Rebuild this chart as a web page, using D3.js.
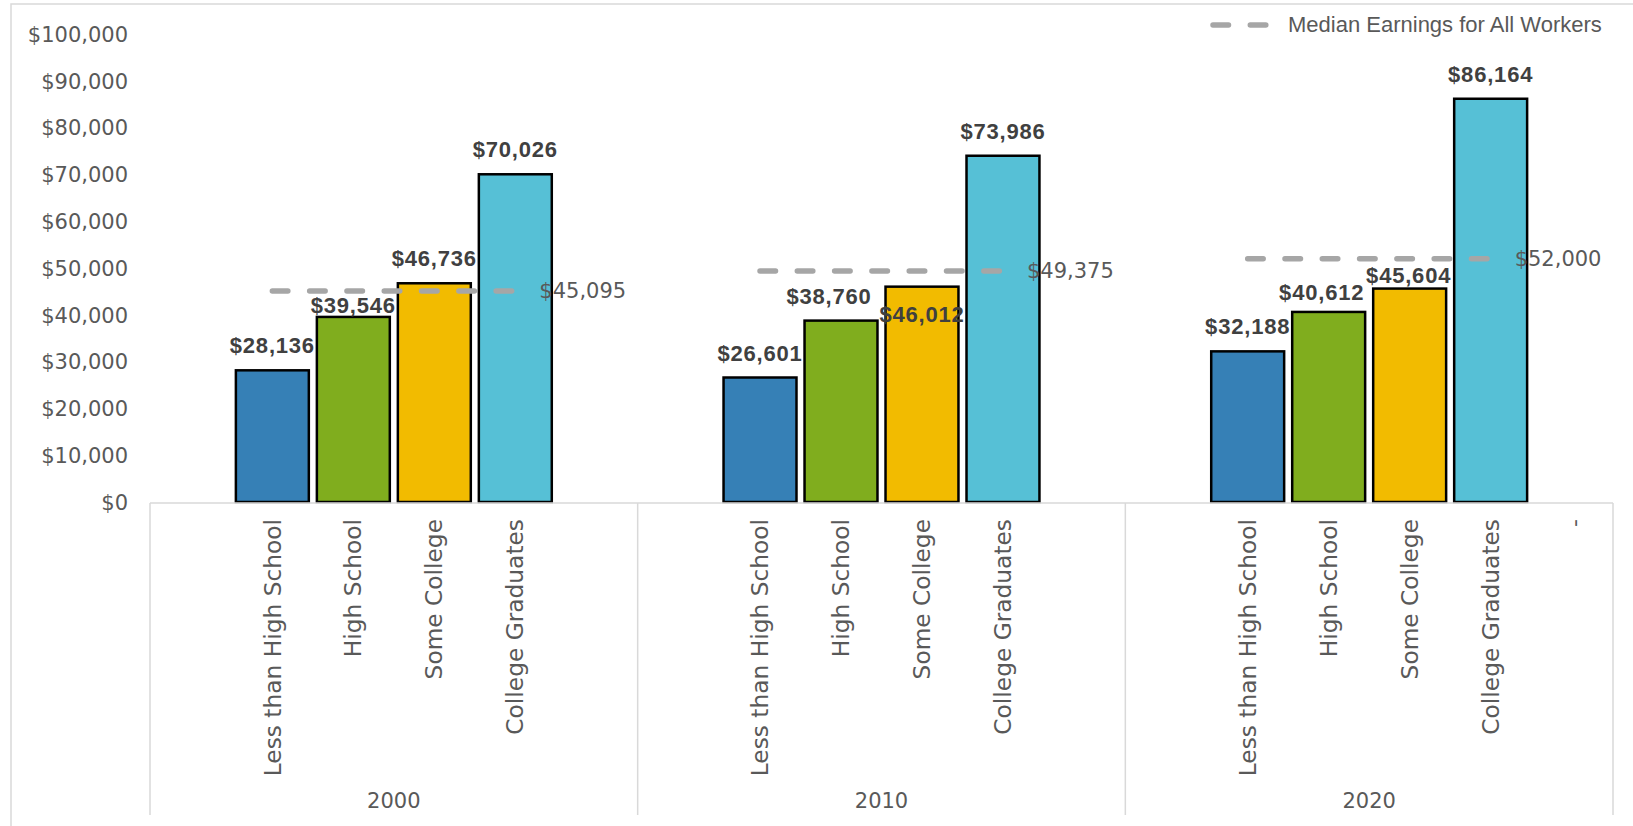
<!DOCTYPE html>
<html>
<head>
<meta charset="utf-8">
<script src="https://cdn.jsdelivr.net/npm/d3@7"></script>
<style>
  html, body { margin: 0; padding: 0; background: #ffffff; }
  svg { display: block; }
</style>
</head>
<body>
<svg id="chart" width="1633" height="826"></svg>
<script>
// Median annual earnings by educational attainment
const years = ["2000", "2010", "2020"];
const levels = ["Less than High School", "High School", "Some College", "College Graduates"];
const earnings2000 = [28136, 39546, 46736, 70026];
const earnings2010 = [26601, 38760, 46012, 73986];
const earnings2020 = [32188, 40612, 45604, 86164];
const medianAllWorkers = [45095, 49375, 52000];
const yTicks = [0, 10000, 20000, 30000, 40000, 50000, 60000, 70000, 80000, 90000, 100000];
const legendLabel = "Median Earnings for All Workers";
const trailingAxisLabel = "-";

const earningsByYear = [earnings2000, earnings2010, earnings2020];

// Label nudges where the value labels were moved off their default spot
const labelNudge = {
  "2000|High School": [0, 13],
  "2010|High School": [-12, 0],
  "2010|Some College": [0, 52],
  "2020|High School": [-7, 5],
  "2020|Some College": [-1, 11]
};

const levelColors = ["#3680b6", "#80ad1e", "#f2bb00", "#56c0d6"];
const textGray = "#595959";
const labelDark = "#404040";
const lineGray = "#a6a6a6";
const frameGray = "#d9d9d9";

const svg = d3.select("#chart");

// Outer chart frame
svg.append("rect")
  .attr("x", 11).attr("y", 4)
  .attr("width", 1640).attr("height", 840)
  .attr("fill", "none")
  .attr("stroke", frameGray)
  .attr("stroke-width", 1.5);

const plotLeft = 150, plotRight = 1613;
const baseY = 502, topY = 34;

const y = d3.scaleLinear().domain([0, 100000]).range([baseY, topY]);
const xGroup = d3.scaleBand().domain(years).range([plotLeft, plotRight]).padding(0);
const xInner = d3.scaleBand().domain(levels)
  .range([0, xGroup.bandwidth()])
  .paddingInner(0.0685)
  .paddingOuter(1.045);

const money = d3.format("$,");

// Y axis labels (no axis line, no gridlines)
const yAxis = d3.axisLeft(y).tickValues(yTicks).tickFormat(money).tickSize(0).tickPadding(0);
const yG = svg.append("g").attr("transform", "translate(128,0)").call(yAxis);
yG.select(".domain").remove();
yG.selectAll("text")
  .attr("fill", textGray)
  .attr("font-family", "DejaVu Sans")
  .attr("font-size", 21)
  .attr("dy", "0.35em");

// Bars
const stroke = 2.5;
const barData = [];
years.forEach((yr, gi) => {
  levels.forEach((lv, li) => {
    barData.push({ year: yr, level: lv, idx: li, value: earningsByYear[gi][li] });
  });
});

const barX = d => xGroup(d.year) + xInner(d.level) + stroke / 2;
const barCx = d => xGroup(d.year) + xInner(d.level) + xInner.bandwidth() / 2;

svg.append("g").selectAll("rect")
  .data(barData)
  .join("rect")
  .attr("x", barX)
  .attr("y", d => y(d.value))
  .attr("width", xInner.bandwidth() - stroke)
  .attr("height", d => y(0) - y(d.value))
  .attr("fill", d => levelColors[d.idx])
  .attr("stroke", "#000000")
  .attr("stroke-width", stroke);

// Category axis: baseline and group dividers
const axisG = svg.append("g");
axisG.append("line")
  .attr("x1", plotLeft).attr("x2", plotRight)
  .attr("y1", baseY + 1).attr("y2", baseY + 1)
  .attr("stroke", frameGray).attr("stroke-width", 1.5);
const dividers = years.map(yr => xGroup(yr)).concat([plotRight]);
axisG.selectAll("line.div")
  .data(dividers)
  .join("line")
  .attr("class", "div")
  .attr("x1", d => d).attr("x2", d => d)
  .attr("y1", baseY + 1).attr("y2", 815)
  .attr("stroke", frameGray).attr("stroke-width", 1.5);

// Rotated level labels
axisG.selectAll("text.lvl")
  .data(barData)
  .join("text")
  .attr("class", "lvl")
  .attr("transform", d => `translate(${barCx(d)},${519}) rotate(-90)`)
  .attr("text-anchor", "end")
  .attr("dy", "0.35em")
  .attr("fill", textGray)
  .attr("font-family", "DejaVu Sans")
  .attr("font-size", 23.3)
  .text(d => d.level);

// Trailing empty category marker
const lastYear = years[years.length - 1];
const trailX = xGroup(lastYear) + xInner(levels[levels.length - 1]) + xInner.step() + xInner.bandwidth() / 2 + 3;
axisG.append("text")
  .attr("transform", `translate(${trailX},${519}) rotate(-90)`)
  .attr("text-anchor", "end")
  .attr("dy", "0.35em")
  .attr("fill", textGray)
  .attr("font-family", "DejaVu Sans")
  .attr("font-size", 22)
  .text(trailingAxisLabel);

// Year labels
axisG.selectAll("text.yr")
  .data(years)
  .join("text")
  .attr("class", "yr")
  .attr("x", d => xGroup(d) + xGroup.bandwidth() / 2)
  .attr("y", 801)
  .attr("text-anchor", "middle")
  .attr("dy", "0.35em")
  .attr("fill", textGray)
  .attr("font-family", "DejaVu Sans")
  .attr("font-size", 21)
  .text(d => d);

// Median earnings dashed line per decade, drawn over the bars
const dash = "15.5 21.8";
const lineG = svg.append("g");
years.forEach((yr, gi) => {
  const pts = levels.map(lv => [xGroup(yr) + xInner(lv) + xInner.bandwidth() / 2, y(medianAllWorkers[gi])]);
  lineG.append("path")
    .attr("d", d3.line()(pts))
    .attr("fill", "none")
    .attr("stroke", lineGray)
    .attr("stroke-width", 5.5)
    .attr("stroke-linecap", "round")
    .attr("stroke-dasharray", dash);
  const last = pts[pts.length - 1];
  lineG.append("text")
    .attr("x", last[0] + 24)
    .attr("y", last[1])
    .attr("dy", "0.35em")
    .attr("fill", textGray)
    .attr("font-family", "DejaVu Sans")
    .attr("font-size", 21)
    .text(money(medianAllWorkers[gi]));
});

// Value labels above bars
svg.append("g").selectAll("text")
  .data(barData)
  .join("text")
  .attr("x", d => barCx(d) + (labelNudge[d.year + "|" + d.level] || [0, 0])[0])
  .attr("y", d => y(d.value) - 17 + (labelNudge[d.year + "|" + d.level] || [0, 0])[1])
  .attr("text-anchor", "middle")
  .attr("fill", labelDark)
  .attr("font-family", "Liberation Sans")
  .attr("font-weight", "bold")
  .attr("font-size", 22)
  .attr("letter-spacing", 0.8)
  .text(d => money(d.value));

// Legend
const legend = svg.append("g");
legend.append("line")
  .attr("x1", 1213).attr("x2", 1266)
  .attr("y1", 25).attr("y2", 25)
  .attr("stroke", lineGray)
  .attr("stroke-width", 5.5)
  .attr("stroke-linecap", "round")
  .attr("stroke-dasharray", dash);
legend.append("text")
  .attr("x", 1288)
  .attr("y", 32)
  .attr("fill", textGray)
  .attr("font-family", "Liberation Sans")
  .attr("font-size", 22)
  .text(legendLabel);
</script>
</body>
</html>
